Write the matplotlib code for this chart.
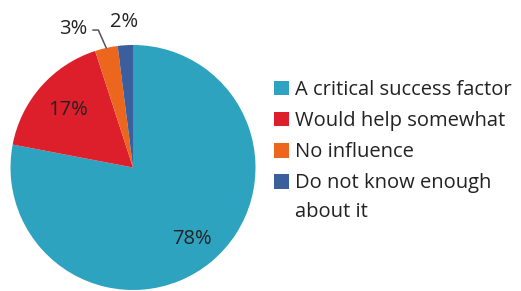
import matplotlib
matplotlib.use("Agg")
import matplotlib.pyplot as plt
import numpy as np

labels = ["A critical success factor", "Would help somewhat", "No influence",
          "Do not know enough", "about it"]
values = [78, 17, 3, 2]
colors = ["#2ea3c0", "#dd1e2b", "#ec671d", "#3a5f9c"]

plt.rcParams['font.family'] = ['Open Sans', 'DejaVu Sans']
txt = "#222222"
fs = 14.5

W, H = 521, 291
fig = plt.figure(figsize=(W / 100, H / 100), dpi=100)

# pie centre and radius in pixels
cx, cy, r = 133, 167.5, 122.5
ax = fig.add_axes([(cx - r) / W, (H - cy - r) / H, 2 * r / W, 2 * r / H])

wedges, _ = ax.pie(values, colors=colors, startangle=90, counterclock=False,
                   radius=1, wedgeprops=dict(linewidth=0))
ax.set_xlim(-1, 1)
ax.set_ylim(-1, 1)
ax.set_aspect('equal')
ax.axis('off')

# percentage labels
dist = [0.76, 0.71, None, 1.19]
for i, (w, v) in enumerate(zip(wedges, values)):
    mid = np.deg2rad((w.theta1 + w.theta2) / 2)
    ex, ey = np.cos(mid), np.sin(mid)
    if dist[i] is not None:
        ax.text(dist[i] * ex, dist[i] * ey, f"{v}%", ha='center', va='center',
                fontsize=fs, color=txt, clip_on=False)
    else:
        # small slice: label off to the side with a leader line
        ax.text(ex - 0.27, ey + 0.155, f"{v}%", ha='center', va='center',
                fontsize=fs, color=txt, clip_on=False)
        ax.annotate("", xy=(ex, ey), xytext=(ex - 0.11, ey + 0.146),
                    annotation_clip=False,
                    arrowprops=dict(arrowstyle='-', color='#555555', lw=1.1,
                                    connectionstyle="angle,angleA=0,angleB=114",
                                    shrinkA=0, shrinkB=0))

# legend: marker sits on the first line of the wrapped last label
leg = fig.legend(wedges, labels[:4], loc='upper left', bbox_to_anchor=(274 / W, 1 - 80 / H),
                 frameon=False, fontsize=fs, handlelength=0.75, handleheight=0.75,
                 handletextpad=0.3, labelspacing=0.55, borderaxespad=0, borderpad=0,
                 labelcolor=txt)
fig.canvas.draw()
bb = leg.get_texts()[-1].get_window_extent()
fig.text(bb.x0 / W, (bb.y0 - 9) / H, labels[4], ha='left', va='top',
         fontsize=fs, color=txt)

fig.savefig("out.png", dpi=100)
